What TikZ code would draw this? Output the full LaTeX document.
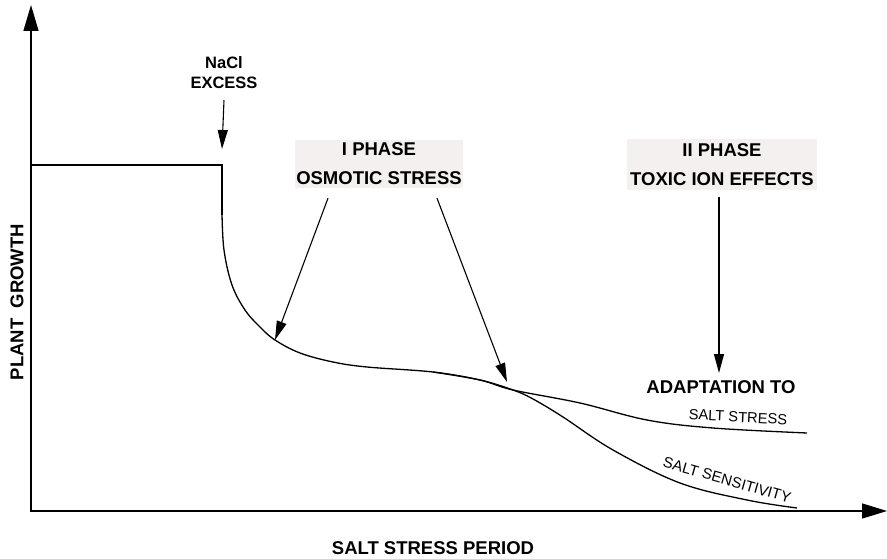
\documentclass[tikz,border=0pt]{standalone}
\usepackage{fontspec}
\setmainfont{Liberation Sans}
\usepackage{tikz}
\usetikzlibrary{arrows.meta}
\definecolor{boxgray}{RGB}{243,240,239}

\begin{document}
\begin{tikzpicture}[x=1pt, y=-1pt,
    lbl/.style={inner sep=0pt, font=\bfseries\fontsize{18.5}{29}\selectfont, align=center},
    small/.style={inner sep=0pt, font=\fontsize{15}{18}\selectfont},
    phasebox/.style={lbl, fill=boxgray},
    axis/.style={line width=1.5pt, {Triangle[length=26pt, width=15pt]}-{Triangle[length=25pt, width=15pt]}},
    arr/.style={line width=1.1pt, -{Triangle[length=19pt, width=10pt]}},
    growth/.style={line width=1.3pt}]
    \useasboundingbox (0,0) rectangle (887,559);
    % axes
    \coordinate (ytip) at (31,5);
    \coordinate (origin) at (31,511);
    \coordinate (xtip) at (887,511);
    \draw[axis] (ytip) -- (origin) -- (xtip);
    \node[lbl, rotate=90] (ylab) at (17,302) {PLANT\ \ GROWTH};
    \node[lbl] (xlab) at (433,548) {SALT STRESS PERIOD};
    % labels
    \node[lbl, font=\bfseries\fontsize{16.5}{20}\selectfont] (nacl) at (224,73) {NaCl\\EXCESS};
    \node[phasebox, minimum width=168pt, minimum height=48pt] (phaseone) at (379,164) {I PHASE\\OSMOTIC STRESS};
    \node[phasebox, minimum width=190pt, minimum height=51pt] (phasetwo) at (722,164.5) {II PHASE\\TOXIC ION EFFECTS};
    \node[lbl] (adapt) at (721,387) {ADAPTATION TO};
    \node[small, font=\fontsize{14.7}{18}\selectfont, rotate=-3] (stress) at (738,417) {SALT STRESS};
    \node[small, rotate=-16] (sens) at (727,480) {SALT SENSITIVITY};
    % growth curve
    \coordinate (step) at (222,165);
    \coordinate (hitnacl) at (222,149);
    \coordinate (hitone) at (275,340);
    \coordinate (hittwo) at (507,382);
    \coordinate (hitthree) at (719,373);
    \draw[line width=2.2pt] (origin |- step) -- (step) -- (222,215);
    \draw[growth] plot[smooth, tension=0.6] coordinates {(222,213) (224,250) (232,285) (245,310) (260,327) (275,340) (300,353) (333,362) (367,367) (433,372) (480,380) (513,390) (580,403) (647,420) (713,428) (807,433)};
    \draw[growth] plot[smooth, tension=0.6] coordinates {(433,372) (480,380) (513,390) (533,399) (563,417) (613,450) (680,483) (747,500) (797,508)};
    % arrows
    \draw[arr] ([yshift=-11pt]nacl.south) -- (hitnacl);
    \draw[arr] ([xshift=-51pt, yshift=-10pt]phaseone.south) -- (hitone);
    \draw[arr] ([xshift=58pt, yshift=-10pt]phaseone.south) -- (hittwo);
    \draw[arr] ([xshift=-3pt, yshift=-7pt]phasetwo.south) -- (hitthree);
\end{tikzpicture}
\end{document}
